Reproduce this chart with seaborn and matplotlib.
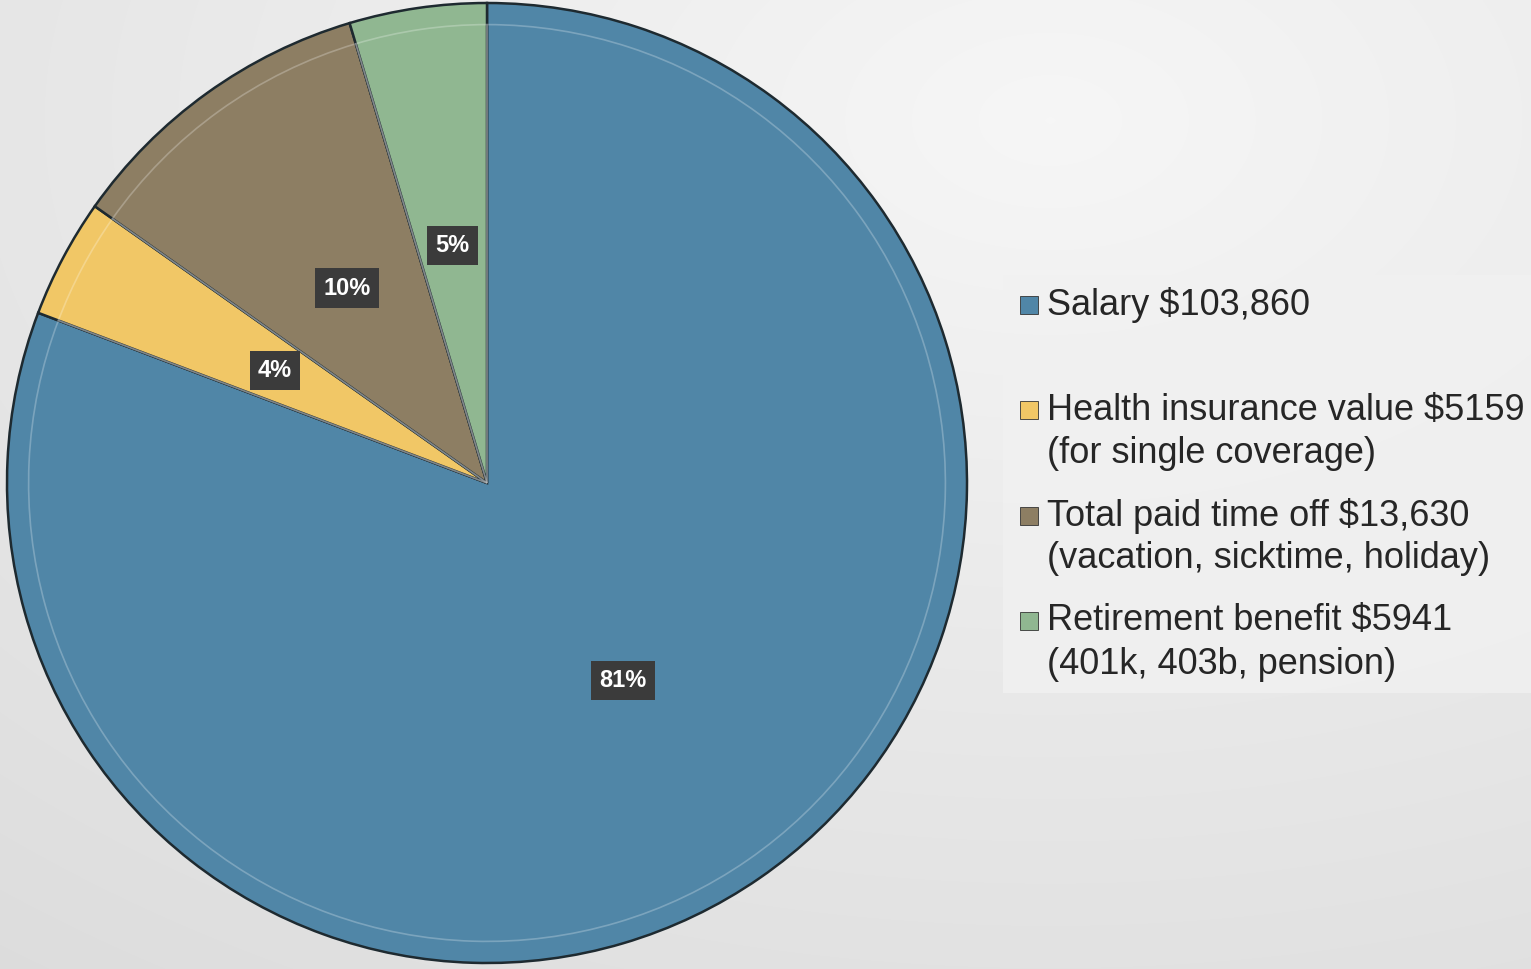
import numpy as np
import matplotlib.pyplot as plt
import seaborn as sns
from matplotlib.patches import Rectangle

# Datos del gráfico
categorias = ["Salary $103,860", "Health insurance value $5159",
              "Total paid time off $13,630", "Retirement benefit $5941"]
subtitulos = ["", "(for single coverage)", "(vacation, sicktime, holiday)",
              "(401k, 403b, pension)"]
valores = [103860, 5159, 13630, 5941]
etiquetas_pct = ["81%", "4%", "10%", "5%"]
colores = ["#5086a7", "#f1c766", "#8d7e63", "#90b791"]

sns.set_theme(style="white")
plt.rcParams["font.family"] = ["Liberation Sans", "DejaVu Sans"]

fig = plt.figure(figsize=(15.31, 9.69), dpi=100)

# Fondo con degradado suave (RGB en coma flotante, sin bandas)
bg = fig.add_axes([0, 0, 1, 1])
yy, xx = np.mgrid[0:969, 0:1531]
d = np.sqrt(((xx - 1050) / 1531) ** 2 + ((yy - 120) / 969) ** 2)
gris = np.clip(0.965 - 0.09 * d, 0, 1)
bg.imshow(np.dstack([gris, gris, gris]), aspect="auto", interpolation="bilinear")
bg.axis("off")

# Caja de la leyenda
fig.patches.append(Rectangle((1003 / 1531, 1 - 693 / 969), 528 / 1531, 418 / 969,
                             transform=fig.transFigure, facecolor="#f1f1f1",
                             edgecolor="none", alpha=0.8, zorder=0))

# Pastel
ax = fig.add_axes([7 / 1531, 6 / 969, 960 / 1531, 960 / 969])
cuenta = iter(etiquetas_pct)
wedges, textos, autotextos = ax.pie(
    valores, colors=colores, startangle=90, counterclock=False,
    autopct=lambda p: next(cuenta), pctdistance=0.5,
    wedgeprops=dict(edgecolor="#1e2a30", linewidth=1.8))
# Bisel interior
ax.pie(valores, startangle=90, counterclock=False, radius=0.955,
       wedgeprops=dict(fill=False, edgecolor="white", linewidth=1.2, alpha=0.25))
for t in autotextos:
    t.set_color("white")
    t.set_fontsize(17)
    t.set_fontweight("bold")
    t.set_bbox(dict(facecolor="#3b3b3b", edgecolor="none", pad=6))
ax.set_xlim(-1, 1)
ax.set_ylim(-1, 1)
ax.set_aspect("equal")
ax.axis("off")

# Leyenda manual
y_lineas = [305, 410, 516, 621]
for nombre, sub, color, y in zip(categorias, subtitulos, colores, y_lineas):
    fig.patches.append(Rectangle((1020 / 1531, 1 - (y + 9) / 969), 18 / 1531, 18 / 969,
                                 transform=fig.transFigure, facecolor=color,
                                 edgecolor="#333333", linewidth=0.6))
    fig.text(1047 / 1531, 1 - y / 969, nombre, fontsize=26, color="#262626",
             va="center", ha="left")
    if sub:
        fig.text(1047 / 1531, 1 - (y + 43) / 969, sub, fontsize=26, color="#262626",
                 va="center", ha="left")

plt.savefig("out.png", dpi=100)
